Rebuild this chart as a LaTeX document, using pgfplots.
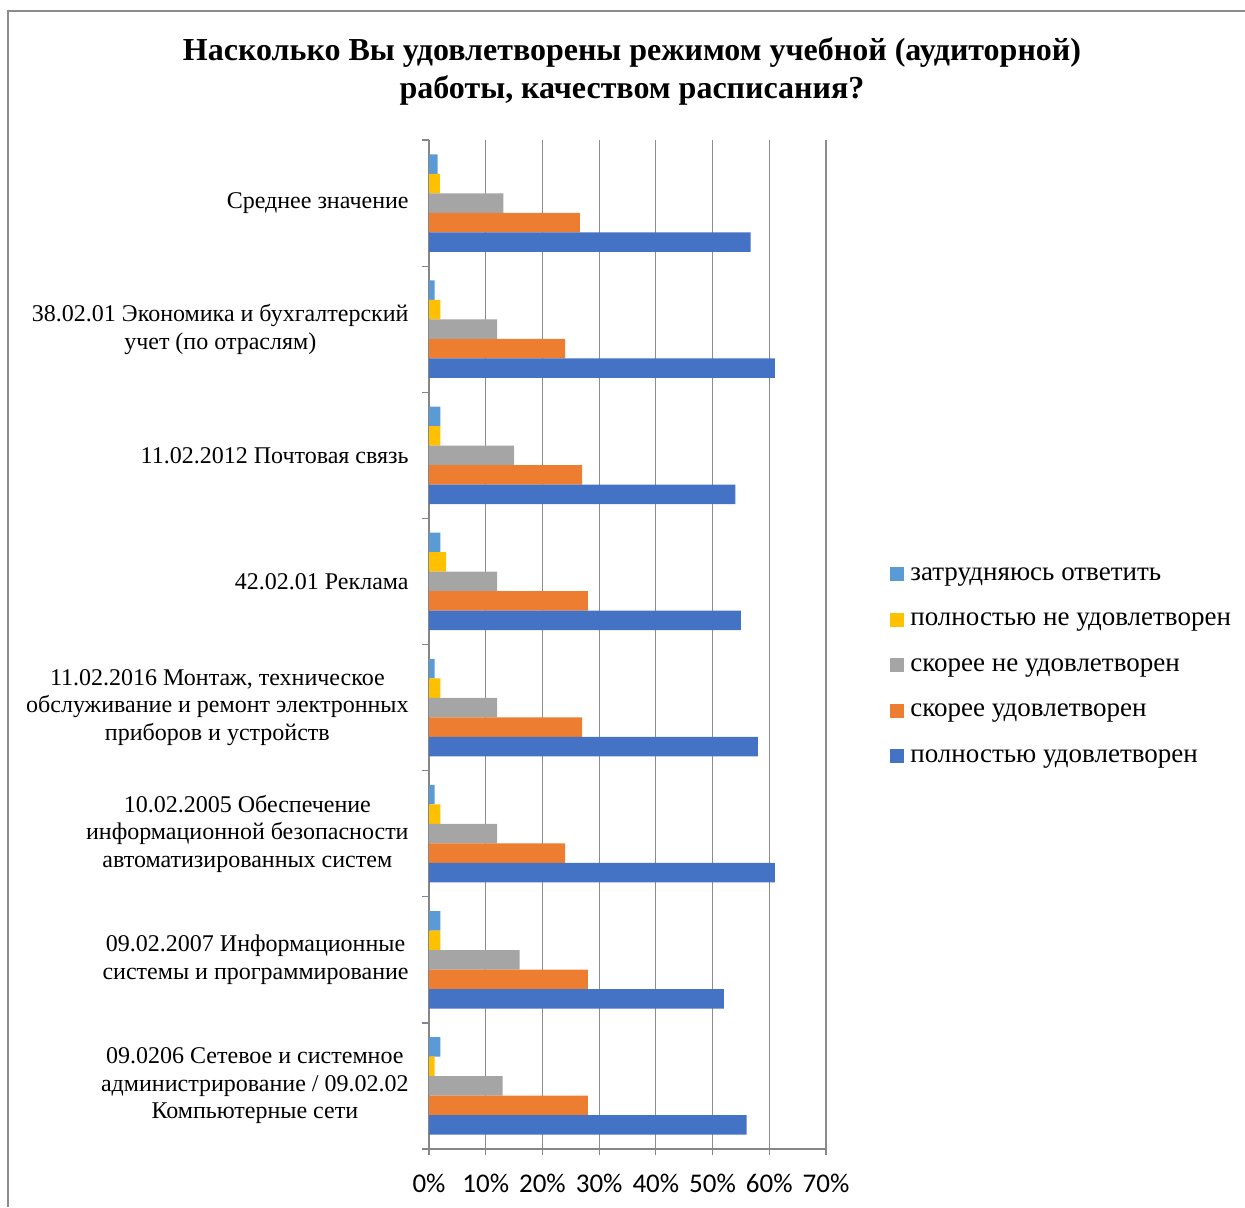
\documentclass[border=0pt]{standalone}
\usepackage{pgfplots}
\pgfplotsset{compat=1.18}
\usepackage{fontspec}
\setmainfont{Liberation Serif}
\newfontfamily\calibri{Carlito}

\definecolor{cBlue}{HTML}{4472C4}
\definecolor{cOrange}{HTML}{ED7D31}
\definecolor{cGray}{HTML}{A5A5A5}
\definecolor{cGold}{HTML}{FFC000}
\definecolor{cLight}{HTML}{5B9BD5}
\definecolor{axisgray}{HTML}{868686}
\definecolor{gridgray}{HTML}{8C8C8C}
\definecolor{framegray}{HTML}{8C8C8C}

\begin{document}
\begin{tikzpicture}
% 1 px of the reference = 0.5pt
\useasboundingbox (0,0) rectangle (622.5pt,-603.5pt);
\draw[framegray, line width=1pt] (4pt,-603.5pt) -- (4pt,-5.5pt) -- (622.5pt,-5.5pt);

\node[align=center, font=\fontsize{16}{19}\selectfont\bfseries] at (316pt,-35.5pt)
  {Насколько Вы удовлетворены режимом учебной (аудиторной)\\работы, качеством расписания?};

\begin{axis}[
    at={(214.5pt,-574.5pt)}, anchor=south west,
    scale only axis, width=198.5pt, height=504.5pt,
    xbar, bar width=9.75pt,
    every axis plot/.append style={draw=none,
        legend image code/.code={\fill[##1] (0pt,-3.5pt) rectangle (7pt,3.5pt);}},
    xmin=0, xmax=70, ymin=-0.5, ymax=7.5,
    axis x line*=bottom, axis y line*=left,
    axis line style={draw=axisgray, line width=0.6pt},
    xtick={0,10,...,70},
    xticklabels={0\%,10\%,20\%,30\%,40\%,50\%,60\%,70\%},
    xticklabel style={font=\fontsize{13.5}{15}\calibri, yshift=-6pt},
    xmajorgrids, grid style={draw=gridgray, line width=0.6pt},
    tick align=outside, major tick length=3pt, minor tick length=3.5pt,
    major x tick style={draw=axisgray, line width=0.6pt},
    major y tick style={draw=none},
    minor y tick style={draw=axisgray, line width=0.6pt},
    ytick={0,...,7},
    minor ytick={-0.5,0.5,...,7.5},
    yticklabels={
      {09.0206 Сетевое и системное\\администрирование / 09.02.02\\Компьютерные сети},
      {09.02.2007 Информационные\\системы и программирование},
      {10.02.2005 Обеспечение\\информационной безопасности\\автоматизированных систем},
      {11.02.2016 Монтаж, техническое\\обслуживание и ремонт электронных\\приборов и устройств},
      {42.02.01 Реклама},
      {11.02.2012 Почтовая связь},
      {38.02.01 Экономика и бухгалтерский\\учет (по отраслям)},
      {Среднее значение}},
    yticklabel style={align=center, font=\fontsize{12}{13.8}\selectfont, inner sep=0pt, xshift=-7pt},
    legend cell align=left,
    legend style={at={(1.1612,0.4797)}, anchor=west, draw=none, fill=none,
        inner sep=0pt, row sep=11.75pt, column sep=3pt,
        font=\fontsize{13.5}{15}\selectfont,
        nodes={inner sep=0pt, text height=8.5pt, text depth=2.5pt}},
]
\addplot[fill=cLight, bar shift=19.5pt] coordinates
  {(2,0) (2,1) (1,2) (1,3) (2,4) (2,5) (1,6) (1.5,7)};
\addplot[fill=cGold, bar shift=9.75pt] coordinates
  {(1,0) (2,1) (2,2) (2,3) (3,4) (2,5) (2,6) (1.9,7)};
\addplot[fill=cGray, bar shift=0pt] coordinates
  {(13,0) (16,1) (12,2) (12,3) (12,4) (15,5) (12,6) (13.1,7)};
\addplot[fill=cOrange, bar shift=-9.75pt] coordinates
  {(28,0) (28,1) (24,2) (27,3) (28,4) (27,5) (24,6) (26.6,7)};
\addplot[fill=cBlue, bar shift=-19.5pt] coordinates
  {(56,0) (52,1) (61,2) (58,3) (55,4) (54,5) (61,6) (56.7,7)};
\legend{затрудняюсь ответить, полностью не удовлетворен, скорее не удовлетворен,
  скорее удовлетворен, полностью удовлетворен}
\end{axis}
\end{tikzpicture}
\end{document}
